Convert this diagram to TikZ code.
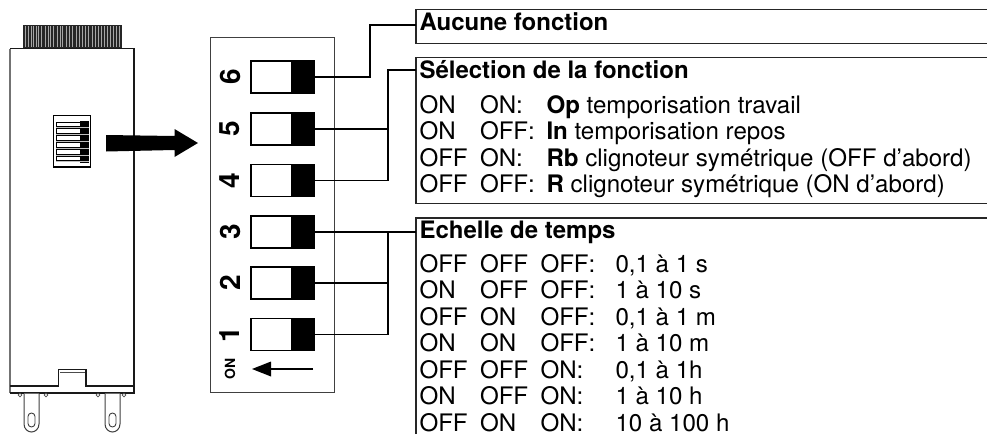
\documentclass[tikz,border=0pt]{standalone}
\usepackage{fontspec}
\setmainfont{TeX Gyre Heros}
\usetikzlibrary{calc}
\tikzset{
  txt/.style={anchor=base west,inner sep=0pt,outer sep=0pt,font=\fontsize{24.1}{26}\selectfont},
  ttl/.style={txt,font=\fontsize{24}{26}\selectfont\bfseries},
  frame/.style={draw=none,inner sep=0pt,outer sep=0pt,anchor=north west},
  lead/.style={line width=1.9pt,black},
  boxline/.style={line width=1.1pt,black!85},
  sw/.style={draw=black,line width=1.4pt,fill=white,inner sep=0pt,outer sep=0pt,minimum width=63pt,minimum height=32pt,anchor=north west},
  swk/.style={fill=black,draw=black,line width=.8pt,inner sep=0pt,outer sep=0pt,minimum width=22.5pt,minimum height=32pt,anchor=north east},
  dig/.style={rotate=90,inner sep=0pt,font=\fontsize{28}{28}\selectfont\bfseries},
  dev/.style={line width=1.1pt,black!90}
}
\begin{document}
\begin{tikzpicture}[x=1pt,y=-1pt]
\useasboundingbox (0,0) rectangle (987,434);
% device
\fill[black!85] (23,25) rectangle (122,48.5);
\foreach \x in {25.5,28,31,33.5,36,38,41.5,45,48,50,53,57,60,62.5,66,69.5,72,76,79,82,85.5,88,92,95,98,101.5,104,107,110,113,116,119}
  \draw[black!35,line width=.8pt] (\x,26) -- (\x,47);
\draw[line width=1.6pt,black!55] (10,49) -- (10,393);
\draw[dev] (10,48.5) -- (134,48.5) -- (134,393) -- (10,393);
\draw[dev] (10,386) -- (58.5,386) -- (58.5,369.5) -- (86,369.5) -- (86,386) -- (134,386);
\draw[line width=.8pt,black!70] (60,372) -- (85,372);
\foreach \x in {20,46,98,124}
  \draw[line width=.7pt,black!70] (\x,395) circle (1.8);
\foreach \x in {24,105} {
  \draw[line width=1pt,black!75,fill=white] (\x,393.5) -- (\x,424) .. controls (\x,429) and (\x+4,432) .. (\x+7.5,432) .. controls (\x+11,432) and (\x+15,429) .. (\x+15,424) -- (\x+15,393.5);
  \draw[line width=.9pt,black!75] (\x+4,416.5) arc (180:360:3.5) -- (\x+11,423.5) arc (0:180:3.5) -- cycle;
}
% mini dip
\draw[line width=1.2pt,fill=white] (53.5,115.5) rectangle (90.5,167);
\fill[black] (80,120.5) rectangle (88.5,162.5);
\foreach \y in {122,128.8,135.7,142.7,149.4,156.2} {
  \draw[line width=.7pt,black,fill=white] (56.5,\y) rectangle (80,\y+4.5);
  \draw[line width=.8pt,black!25] (56,\y+5.6) -- (89,\y+5.6);
}
% big arrow
\fill[black] (106,135) -- (174.5,136) -- (174.5,129) -- (198,143) -- (174.5,157) -- (174.5,150) -- (106,151.5) -- cycle;
% panel
\node[frame,draw=black!75,line width=1pt,minimum width=124pt,minimum height=355pt] (panel) at (210,37) {};
% switches
\foreach \n/\y in {6/61,5/113,4/164.5,3/216,2/267,1/318.5} {
  \node[sw] (s\n) at (251,\y) {};
  \node[swk] at (s\n.north east) {};
  \node[dig] (d\n) at (230,\y+16) {\n};
}
% ON arrow
\node[rotate=90,inner sep=0pt,font=\fontsize{14}{14}\selectfont\bfseries] (onl) at (230,369) {ON};
\coordinate (ontail) at (313,369);
\coordinate (ontip) at (252,369);
\draw[line width=1.5pt] (ontail) -- (270,369);
\fill (ontip) -- (271,361.5) -- (271,376.5) -- cycle;
% text frames
\node[frame,minimum width=571pt,minimum height=34pt] (ba) at (416,9.5) {};
\node[frame,minimum width=571pt,minimum height=146pt] (bb) at (416,57.5) {};
\node[frame,minimum width=571pt,minimum height=216pt] (bc) at (416,218) {};
\draw[boxline] (ba.north east) -- (ba.north west) -- (ba.south west) -- (ba.south east);
\draw[boxline] (bb.north east) -- (bb.north west) -- (bb.south west) -- (bb.south east);
\draw[boxline] (bc.south west) -- (bc.north west) -- (bc.north east);
% leads
\coordinate (ja) at (370,25);
\coordinate (jb) at (388,70);
\coordinate (jc) at (388,232);
\draw[lead] (s6.east) -| (ja) -- (ba.west |- ja);
\draw[lead] (s5.east) -- (s5.east -| jb);
\draw[lead] (s4.east) -| (jb) -- (bb.west |- jb);
\draw[lead] (s3.east) -- (s3.east -| jc) -- (bc.west |- s3.east);
\draw[lead] (s2.east) -- (s2.east -| jc);
\draw[lead] (s1.east) -| (jc);
% titles
\node[ttl] (ta) at (419.5,30) {Aucune fonction};
\node[ttl] (tb) at (419.5,78) {Sélection de la fonction};
\node[ttl] (tc) at (419.5,238) {Echelle de temps};
% box b rows
\foreach \y/\a/\b/\k/\r in {
  113/ON/ON:/Op/ temporisation travail,
  139.5/ON/OFF:/In/ temporisation repos,
  166/OFF/ON:/Rb/ clignoteur symétrique (OFF d’abord),
  192.5/OFF/OFF:/R/ clignoteur symétrique (ON d’abord)} {
  \node[txt] at (419.5,\y) {\a};
  \node[txt] at (480,\y) {\b};
  \node[txt] at (546.5,\y) {\textbf{\k}\r};
}
% box c rows
\foreach \y/\a/\b/\c/\v in {
  272/OFF/OFF/OFF:/{0,1 à 1 s},
  298.5/ON/OFF/OFF:/1 à 10 s,
  325/OFF/ON/OFF:/{0,1 à 1 m},
  351.5/ON/ON/OFF:/1 à 10 m,
  378/OFF/OFF/ON:/{0,1 à 1h},
  404.5/ON/OFF/ON:/1 à 10 h,
  431/OFF/ON/ON:/10 à 100 h} {
  \node[txt] at (419.5,\y) {\a};
  \node[txt] at (480,\y) {\b};
  \node[txt] at (540.5,\y) {\c};
  \node[txt] at (615.5,\y) {\v};
}
\end{tikzpicture}
\end{document}
